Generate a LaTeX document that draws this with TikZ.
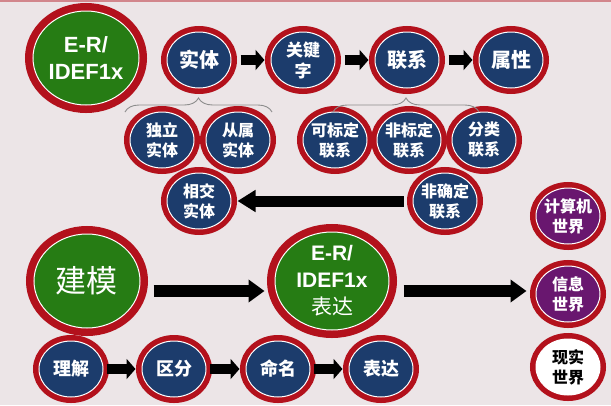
\documentclass[tikz,border=0pt]{standalone}
\usepackage{fontspec}
\setmainfont{Liberation Sans}
\newfontfamily\cjk{Noto Sans CJK SC}
\usetikzlibrary{arrows.meta,shapes.geometric,decorations.pathreplacing}
\definecolor{ringred}{HTML}{B3111C}
\definecolor{navy}{HTML}{1C3C6C}
\definecolor{leaf}{HTML}{267C14}
\definecolor{plum}{HTML}{69176F}
\definecolor{paper}{HTML}{ECE5E7}
\definecolor{bracegray}{HTML}{8C8C8C}

\begin{document}
\begin{tikzpicture}[x=1pt,y=-1pt,
    bubble/.style={ellipse,inner sep=-8pt,minimum width=64pt,minimum height=56pt,
        fill=navy,draw=white,line width=1pt,text=white,align=center,
        preaction={draw=ringred,line width=12pt},
        font=\cjk\bfseries\fontsize{16}{20}\selectfont},
    bigbubble/.style={bubble,fill=leaf,minimum width=106pt,minimum height=94pt,
        preaction={draw=ringred,line width=16pt}},
    world/.style={bubble,fill=plum},
    fat/.style={line width=10pt,-{Triangle[width=20pt,length=9pt]},
        shorten <=9pt,shorten >=6pt},
    fatter/.style={line width=12pt,-{Triangle[width=22pt,length=16pt]}},
    grouping/.style={bracegray,line width=0.9pt,
        decorate,decoration={brace,amplitude=14pt}}]
    \useasboundingbox (0,0) rectangle (611,405);
    \fill[paper] (0,0) rectangle (611,405);
    \fill[ringred!45!paper] (0,0) rectangle (611,2);

    % er model parts
    \node[bigbubble,font=\bfseries\fontsize{22}{27}\selectfont] (er) at (86,58) {E-R/\\IDEF1x};
    \node[bubble,font=\cjk\bfseries\fontsize{20}{21}\selectfont] (shiti) at (199,60) {实体};
    \node[bubble,font=\cjk\bfseries\fontsize{17}{21}\selectfont] (guanjian) at (303,60) {关键\\字};
    \node[bubble,font=\cjk\bfseries\fontsize{20}{21}\selectfont] (lianxi) at (407,60) {联系};
    \node[bubble,font=\cjk\bfseries\fontsize{20}{21}\selectfont] (shuxing) at (511,60) {属性};
    \draw[fat] (shiti) -- (guanjian);
    \draw[fat] (guanjian) -- (lianxi);
    \draw[fat] (lianxi) -- (shuxing);

    \node[bubble] (duli) at (162,140) {独立\\实体};
    \node[bubble] (congshu) at (238,140) {从属\\实体};
    \node[bubble] (kebiao) at (335,140) {可标定\\联系};
    \node[bubble] (feibiao) at (409,140) {非标定\\联系};
    \node[bubble] (fenlei) at (484,140) {分类\\联系};
    \node[bubble] (xiangjiao) at (199,201) {相交\\实体};
    \node[bubble] (feique) at (445,201) {非确定\\联系};
    \draw[fat,line width=11pt,-{Triangle[width=21pt,length=18pt]}] (feique) -- (xiangjiao);

    \coordinate (b1l) at (125,112);
    \coordinate (b1r) at (272,112);
    \coordinate (b2l) at (333,112);
    \coordinate (b2r) at (479,112);
    \draw[grouping] (b1l) -- (b1r);
    \draw[grouping] (b2l) -- (b2r);

    % worlds
    \node[world] (jisuanji) at (568,216) {计算机\\世界};
    \node[world] (xinxi) at (568,294) {信息\\世界};
    \node[world,fill=white,draw=white,text=black] (xianshi) at (568,367) {现实\\世界};

    % modelling
    \node[bigbubble,font=\cjk\fontsize{31}{32}\selectfont] (jianmo) at (87,281) {建模};
    \node[bigbubble,minimum width=114pt,minimum height=98pt,
        font=\bfseries\fontsize{21}{27}\selectfont] (er2) at (332,281)
        {E-R/\\IDEF1x\\{\cjk\mdseries 表达}};
    \draw[fatter,shorten <=13pt,shorten >=10pt]
        ([yshift=-10pt]jianmo.east) -- ([yshift=-10pt]jianmo.east -| er2.west);
    \draw[fatter,shorten <=14pt,shorten >=9pt]
        ([yshift=-10pt]er2.east) -- ([yshift=-10pt]er2.east -| xinxi.west);

    \foreach \X/\T [count=\i] in {71/理解,174/区分,278/命名,381/表达}
        {\node[bubble,font=\cjk\bfseries\fontsize{18}{20}\selectfont] (step\i) at (\X,369) {\T};}
    \foreach \i [evaluate=\i as \j using {int(\i+1)}] in {1,2,3}
        {\draw[fat,shorten <=3pt] (step\i) -- (step\j);}
\end{tikzpicture}
\end{document}
